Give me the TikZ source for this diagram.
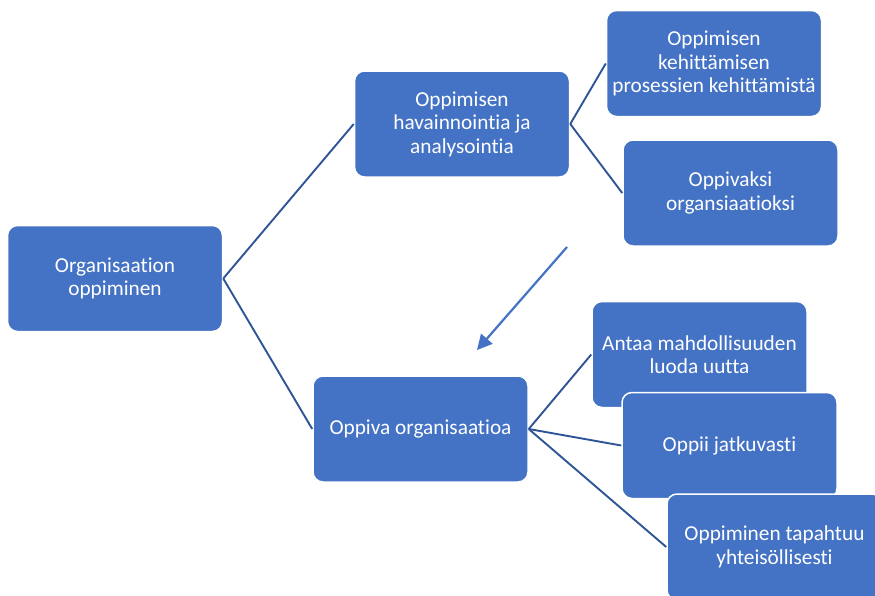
\documentclass[tikz,border=0pt]{standalone}
\usepackage{fontspec}
\setmainfont{Carlito}[Ligatures=NoCommon]
\usetikzlibrary{arrows.meta}
\definecolor{boxblue}{HTML}{4472C4}
\definecolor{linkblue}{HTML}{2F5597}
\begin{document}
\begin{tikzpicture}[x=1pt,y=-1pt,
  card/.style={rectangle, rounded corners=10pt, fill=boxblue, draw=white,
    line width=1.5pt, minimum width=215pt, minimum height=106pt, inner sep=2pt,
    align=center, text=white, font=\fontsize{21.3}{23.5}\selectfont},
  link/.style={draw=linkblue, line width=1.9pt},
  flow/.style={draw=boxblue, line width=2.2pt, -{Triangle[length=15pt,width=15pt]}}]
\clip (0,0) rectangle (875,595);
\fill[white] (0,0) rectangle (875,595);

% boxes
\node[card] (root) at (115,278.5) {Organisaation\\oppiminen};
\node[card] (obs) at (462,124) {Oppimisen\\havainnointia ja\\analysointia};
\node[card] (dev) at (714,63.5) {Oppimisen\\kehittämisen\\prosessien kehittämistä};
\node[card] (lrn) at (730.5,193) {Oppivaksi\\organsiaatioksi};
\node[card] (org) at (420.5,429) {Oppiva organisaatioa};
\node[card] (new) at (699.5,354.5) {Antaa mahdollisuuden\\luoda uutta};
\node[card] (cont) at (729.5,445.5) {Oppii jatkuvasti};
\node[card] (comm) at (774.5,547) {Oppiminen tapahtuu\\yhteisöllisesti};

% connectors
\path[link] (root.east) -- (obs.west);
\path[link] (root.east) -- (org.west);
\path[link] (obs.east) -- (dev.west);
\path[link] (obs.east) -- (lrn.west);
\path[link] (org.east) -- (new.west);
\path[link] (org.east) -- (cont.west);
\path[link] (org.east) -- (comm.west);

% arrow between the two branches
\coordinate (from) at (567,247);
\coordinate (to) at (477,350);
\draw[flow] (from) -- (to);
\end{tikzpicture}
\end{document}
